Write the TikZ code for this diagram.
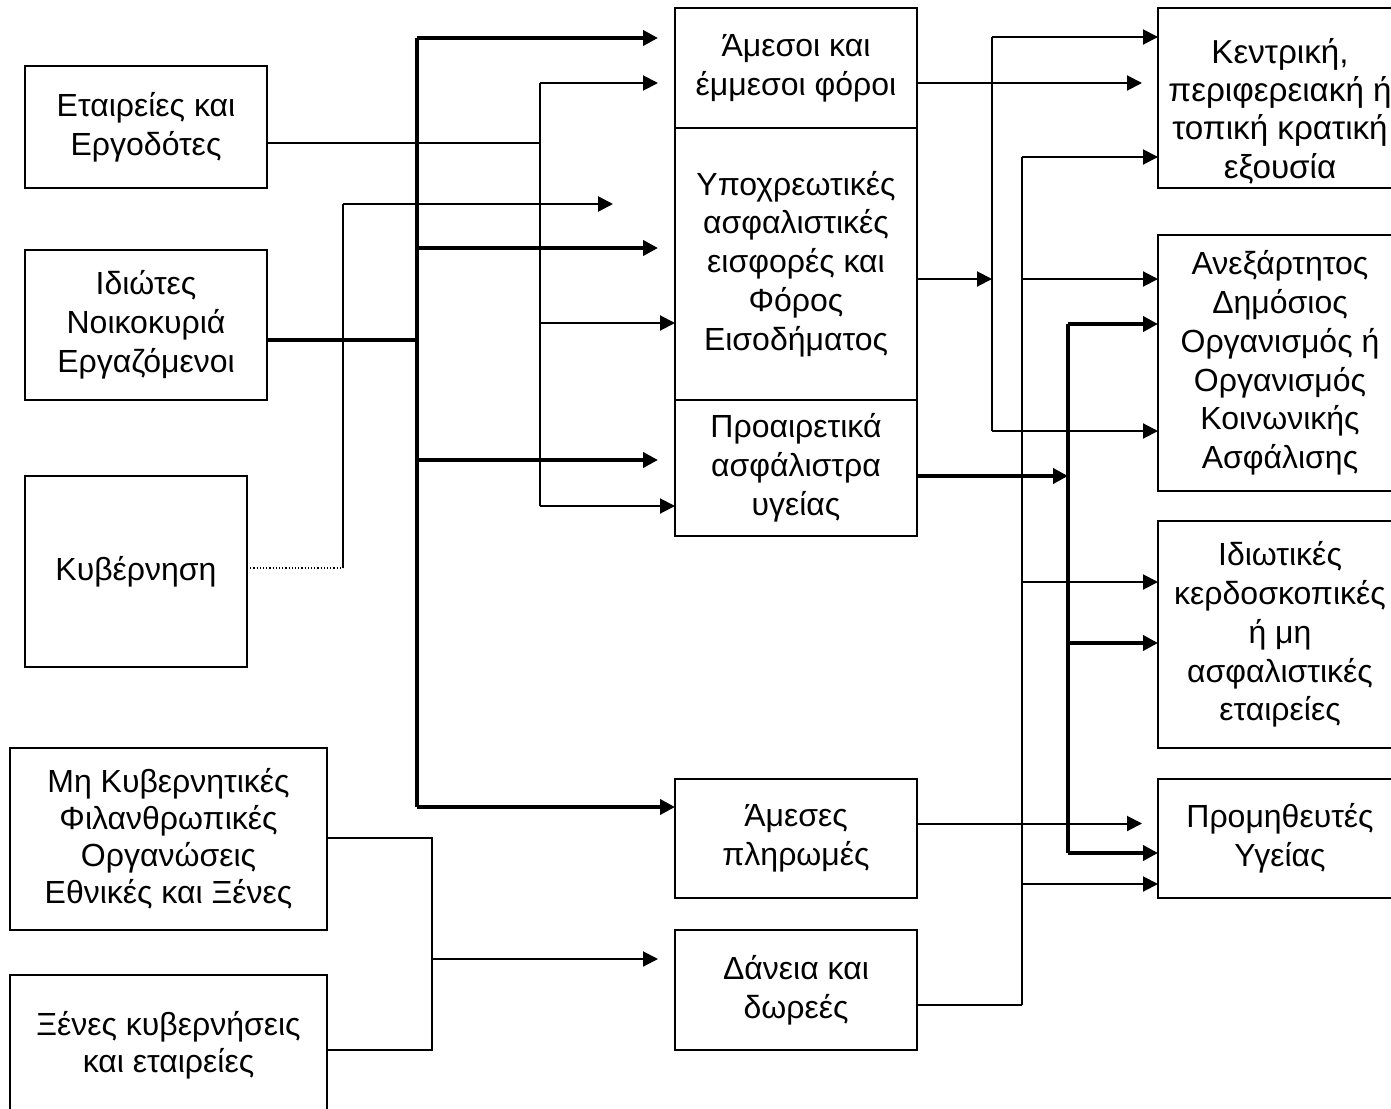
\documentclass[tikz,border=0pt]{standalone}
\usepackage{fontspec}
\setmainfont{Liberation Sans}
\usetikzlibrary{positioning, arrows.meta, calc}

\begin{document}
\begin{tikzpicture}[x=0.5pt, y=-0.5pt, line width=1pt, >={Triangle[length=7.5pt,width=7.5pt]},
                font=\fontsize{16}{19.4}\selectfont]
                \tikzstyle{box} = [draw, anchor=north west, align=center, inner sep=2pt, outer sep=0pt, line width=1pt]
                \tikzstyle{heavy} = [line width=2pt]
                \tikzstyle{gap} = [shorten >=8.5pt]

                \useasboundingbox (0,0) rectangle (1391,1108);

                % Sources (left column)
                \node[box, minimum width=121pt, minimum height=61pt] (s1) at (25,66) {Εταιρείες και\\Εργοδότες};
                \node[box, minimum width=121pt, minimum height=75pt] (s2) at (25,250) {Ιδιώτες\\Νοικοκυριά\\Εργαζόμενοι};
                \node[box, minimum width=111pt, minimum height=95.5pt] (s3) at (25,476) {\raisebox{-2pt}{Κυβέρνηση}};
                \node[box, minimum width=158.5pt, minimum height=91pt, font=\fontsize{16}{18.5}\selectfont] (s4) at (10,748) {Μη Κυβερνητικές\\Φιλανθρωπικές\\Οργανώσεις\\Εθνικές και Ξένες};
                \node[box, minimum width=158.5pt, minimum height=70pt, font=\fontsize{16}{18.5}\selectfont] (s5) at (10,975) {Ξένες κυβερνήσεις\\και εταιρείες};

                % Funding mechanisms (middle column)
                \node[box, minimum width=121pt, minimum height=60pt] (f1) at (675,8) {Άμεσοι και\\έμμεσοι φόροι};
                \node[box, minimum width=121pt, minimum height=136pt] (f2) at (f1.south west) {Υποχρεωτικές\\ασφαλιστικές\\εισφορές και\\Φόρος\\Εισοδήματος};
                \node[box, minimum width=121pt, minimum height=68pt] (f3) at (f2.south west) {Προαιρετικά\\ασφάλιστρα\\υγείας};
                \node[box, minimum width=121pt, minimum height=59.5pt] (f4) at (675,779) {Άμεσες\\πληρωμές};
                \node[box, minimum width=121pt, minimum height=60pt] (f5) at (675,930) {Δάνεια και\\δωρεές};

                % Agents (right column)
                \node[box, minimum width=122pt, minimum height=90pt, font=\fontsize{16.6}{19.2}\selectfont] (a1) at (1158,8) {\rule{0pt}{25.5pt}Κεντρική,\\περιφερειακή ή\\τοπική κρατική\\εξουσία};
                \node[box, minimum width=122pt, minimum height=128pt] (a2) at (1158,235) {Ανεξάρτητος\\Δημόσιος\\Οργανισμός ή\\Οργανισμός\\Κοινωνικής\\Ασφάλισης};
                \node[box, minimum width=122pt, minimum height=113.5pt] (a3) at (1158,521) {Ιδιωτικές\\κερδοσκοπικές\\ή μη\\ασφαλιστικές\\εταιρείες};
                \node[box, minimum width=122pt, minimum height=59.5pt] (a4) at (1158,779) {Προμηθευτές\\Υγείας};

                % Junctions
                \coordinate (p1) at (417,38);
                \coordinate (p2) at (417,248);
                \coordinate (p3) at (417,340);
                \coordinate (p4) at (417,460);
                \coordinate (p5) at (417,807);
                \coordinate (q1) at (540,83);
                \coordinate (q2) at (540,143);
                \coordinate (q3) at (540,323);
                \coordinate (q4) at (540,506);
                \coordinate (g1) at (343,568);
                \coordinate (g2) at (343,204);
                \coordinate (g3) at (613,204);
                \coordinate (n1) at (432,838);
                \coordinate (n2) at (432,959);
                \coordinate (n3) at (432,1050);
                \coordinate (u1) at (992,37);
                \coordinate (u2) at (992,279);
                \coordinate (u3) at (992,431);
                \coordinate (v1) at (1022,157);
                \coordinate (v2) at (1022,279);
                \coordinate (v3) at (1022,582);
                \coordinate (v4) at (1022,884);
                \coordinate (v5) at (1022,1005);
                \coordinate (w1) at (1068,324);
                \coordinate (w2) at (1068,476);
                \coordinate (w3) at (1068,643);
                \coordinate (w4) at (1068,853);
                \coordinate (t1) at ([yshift=-7.5pt]f1.east);
                \coordinate (t4) at ([yshift=7.5pt]f4.east);

                % Households bus
                \draw[heavy] (s2.east |- p3) -- (p3);
                \draw[heavy] (p1) -- (p5);
                \draw[heavy, ->, gap] (p1) -- (p1 -| f1.west);
                \draw[heavy, ->, gap] (p2) -- (p2 -| f2.west);
                \draw[heavy, ->, gap] (p4) -- (p4 -| f3.west);
                \draw[heavy, ->] (p5) -- (p5 -| f4.west);

                % Employers bus
                \draw (s1.east |- q2) -- (q2);
                \draw (q1) -- (q4);
                \draw[->, gap] (q1) -- (q1 -| f1.west);
                \draw[->] (q3) -- (q3 -| f2.west);
                \draw[->] (q4) -- (q4 -| f3.west);

                % Government
                \draw[densely dotted, line width=0.6pt] (s3.east |- g1) -- (g1);
                \draw[line width=1.3pt] (g1) -- (g2);
                \draw[line width=1.3pt, ->] (g2) -- (g3);

                % Donors
                \draw (s4.east |- n1) -- (n1) -- (n3) -- (s5.east |- n3);
                \draw[->, gap] (n2) -- (n2 -| f5.west);

                % Funds to agents
                \draw[->, shorten >=8pt] (t1) -- (t1 -| a1.west);
                \draw[->] (f2.east |- u2) -- (u2);
                \draw (u1) -- (u3);
                \draw[->] (u1) -- (u1 -| a1.west);
                \draw[->] (u3) -- (u3 -| a2.west);

                \draw (v1) -- (v5);
                \draw (f5.east |- v5) -- (v5);
                \draw[->] (v1) -- (v1 -| a1.west);
                \draw[->] (v2) -- (v2 -| a2.west);
                \draw[->] (v3) -- (v3 -| a3.west);
                \draw[->] (v4) -- (v4 -| a4.west);

                \draw[heavy, ->] (f3.east |- w2) -- (w2);
                \draw[heavy] (w1) -- (w4);
                \draw[heavy, ->] (w1) -- (w1 -| a2.west);
                \draw[heavy, ->] (w3) -- (w3 -| a3.west);
                \draw[heavy, ->] (w4) -- (w4 -| a4.west);

                \draw[->, shorten >=8pt] (t4) -- (t4 -| a4.west);
            \end{tikzpicture}
\end{document}
